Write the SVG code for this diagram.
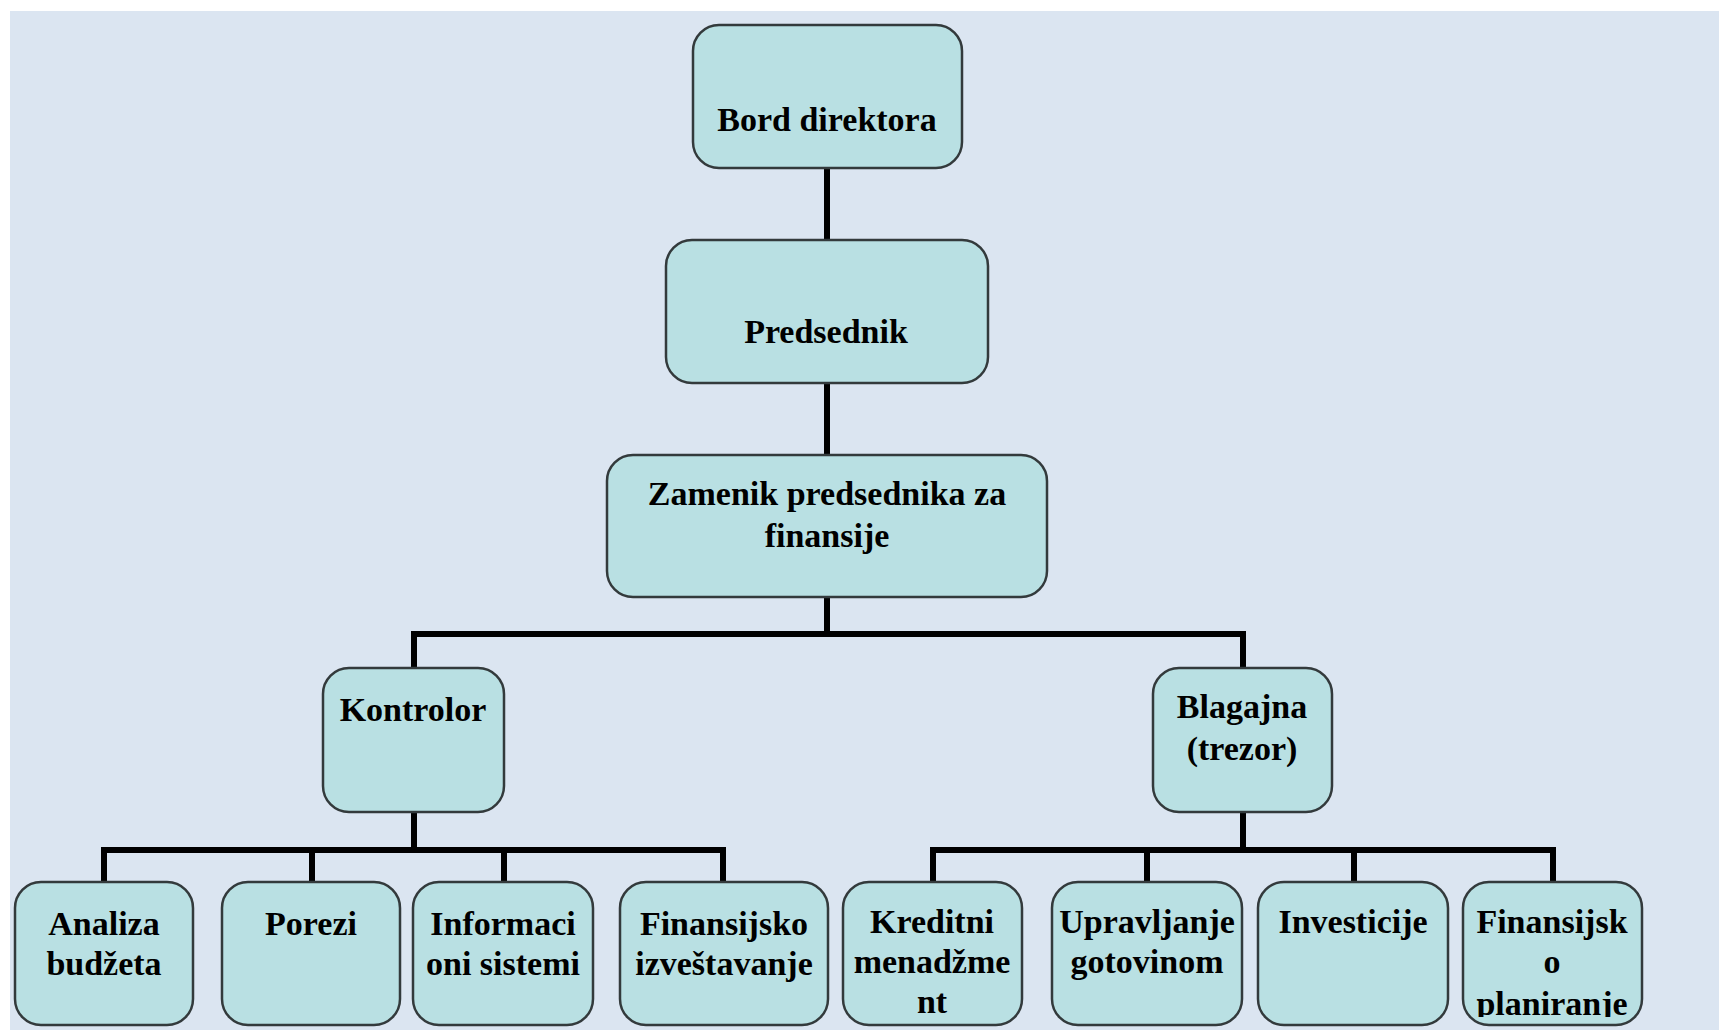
<svg xmlns="http://www.w3.org/2000/svg" width="1719" height="1032" viewBox="0 0 1719 1032">
<style>
.box{fill:#b9e0e3;stroke:#333a3c;stroke-width:2.5}
.lbl{font-family:"Liberation Serif","Times New Roman",serif;font-weight:bold;font-size:34px;fill:#000;text-anchor:middle}
.con{fill:none;stroke:#000;stroke-width:6;stroke-linejoin:miter}
</style>
<defs>
<clipPath id="clipFP"><rect x="1463" y="882" width="179" height="135"/></clipPath>
</defs>
<rect x="0" y="0" width="1719" height="1032" fill="#ffffff"/>
<rect x="10" y="11" width="1709" height="1019" fill="#dbe5f1"/>
<g id="connectors">
<path class="con" d="M827 168V240M827 383V455M827 597V634M414 634H1243M414 631V668M1243 631V668"/>
<path class="con" d="M414 812V850M104 850H723M104 847V882M312 847V882M504 847V882M723 847V882"/>
<path class="con" d="M1243 812V850M933 850H1553M933 847V882M1147 847V882M1354 847V882M1553 847V882"/>
</g>
<g id="bord"><rect class="box" x="693" y="25" width="269" height="143" rx="26"/><text class="lbl" x="827" y="131">Bord direktora</text></g>
<g id="predsednik"><rect class="box" x="666" y="240" width="322" height="143" rx="26"/><text class="lbl" x="826" y="343">Predsednik</text></g>
<g id="zamenik"><rect class="box" x="607" y="455" width="440" height="142" rx="26"/><text class="lbl" x="827" y="505">Zamenik predsednika za</text><text class="lbl" x="827" y="547">finansije</text></g>
<g id="kontrolor"><rect class="box" x="323" y="668" width="181" height="144" rx="26"/><text class="lbl" x="413" y="721">Kontrolor</text></g>
<g id="blagajna"><rect class="box" x="1153" y="668" width="179" height="144" rx="26"/><text class="lbl" x="1242" y="718">Blagajna</text><text class="lbl" x="1242" y="760">(trezor)</text></g>
<g id="analiza"><rect class="box" x="15" y="882" width="178" height="143" rx="26"/><text class="lbl" x="104" y="935">Analiza</text><text class="lbl" x="104" y="975">budžeta</text></g>
<g id="porezi"><rect class="box" x="222" y="882" width="178" height="143" rx="26"/><text class="lbl" x="311" y="935">Porezi</text></g>
<g id="informacioni"><rect class="box" x="413" y="882" width="180" height="143" rx="26"/><text class="lbl" x="503" y="935">Informaci</text><text class="lbl" x="503" y="975">oni sistemi</text></g>
<g id="izvestavanje"><rect class="box" x="620" y="882" width="208" height="143" rx="26"/><text class="lbl" x="724" y="935">Finansijsko</text><text class="lbl" x="724" y="975">izveštavanje</text></g>
<g id="kreditni"><rect class="box" x="843" y="882" width="179" height="143" rx="26"/><text class="lbl" x="932" y="933">Kreditni</text><text class="lbl" x="932" y="973">menadžme</text><text class="lbl" x="932" y="1013">nt</text></g>
<g id="upravljanje"><rect class="box" x="1052" y="882" width="190" height="143" rx="26"/><text class="lbl" x="1147" y="933">Upravljanje</text><text class="lbl" x="1147" y="973">gotovinom</text></g>
<g id="investicije"><rect class="box" x="1258" y="882" width="190" height="143" rx="26"/><text class="lbl" x="1353" y="933">Investicije</text></g>
<g id="planiranje"><rect class="box" x="1463" y="882" width="179" height="143" rx="26"/><g clip-path="url(#clipFP)"><text class="lbl" x="1552" y="933">Finansijsk</text><text class="lbl" x="1552" y="973">o</text><text class="lbl" x="1552" y="1015">planiranje</text></g></g>
</svg>
